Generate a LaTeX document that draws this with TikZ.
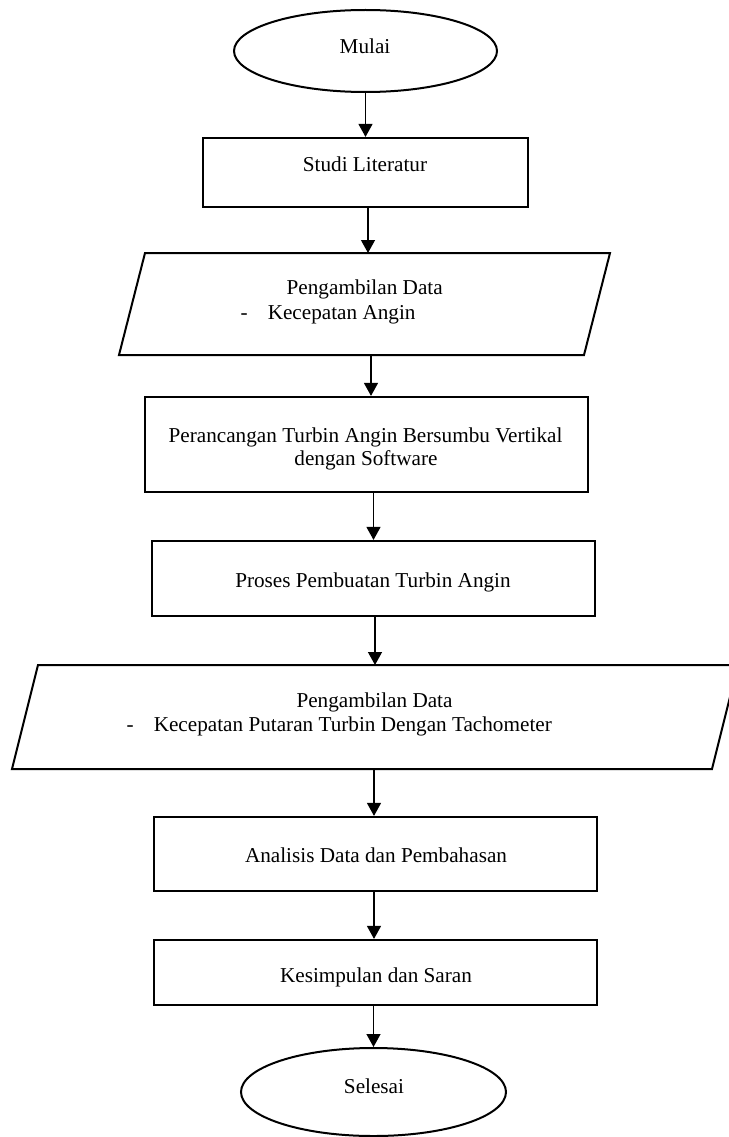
\documentclass[tikz,border=0pt]{standalone}
\usepackage{fontspec}
\setmainfont{Liberation Serif}
\usetikzlibrary{shapes.geometric,arrows.meta,calc}
\begin{document}
\begin{tikzpicture}[x=1pt,y=-1pt,
  box/.style={draw, line width=2.2pt, rectangle, inner sep=0pt},
  term/.style={draw, line width=2pt, ellipse, inner sep=0pt},
  para/.style={draw, line width=2pt, line join=miter},
  lbl/.style={font=\fontsize{21.2pt}{25pt}\selectfont, inner sep=0pt, anchor=base},
  lblw/.style={lbl, anchor=base west},
  arr/.style={line width=1.3pt, -{Triangle[length=13pt,width=14pt]}}]
\useasboundingbox (0,0) rectangle (728,1137);

% shapes
\node[term, minimum width=263pt, minimum height=82pt] (mulai) at (365.5,51) {};
\node[box, minimum width=325pt, minimum height=69pt] (studi) at (365.5,172.5) {};
\coordinate (p1tl) at (145,253);
\coordinate (p1tr) at (610,253);
\coordinate (p1br) at (584,355);
\coordinate (p1bl) at (119,355);
\draw[para] (p1tl) -- (p1tr) -- (p1br) -- (p1bl) -- cycle;
\coordinate (p1n) at (368,253);
\coordinate (p1s) at (371,355);
\node[box, minimum width=443pt, minimum height=95pt] (r2) at (366.5,444.5) {};
\node[box, minimum width=443pt, minimum height=75pt] (r3) at (373.5,578.5) {};
\coordinate (p2tl) at (38,665);
\coordinate (p2tr) at (738,665);
\coordinate (p2br) at (712,769);
\coordinate (p2bl) at (12,769);
\draw[para] (p2tl) -- (p2tr) -- (p2br) -- (p2bl) -- cycle;
\coordinate (p2n) at (375,665);
\coordinate (p2s) at (374,769);
\node[box, minimum width=443pt, minimum height=74pt] (r4) at (375.5,854) {};
\node[box, minimum width=443pt, minimum height=65pt] (r5) at (375.5,972.5) {};
\node[term, minimum width=265pt, minimum height=88pt] (selesai) at (373.5,1092) {};

% texts
\node[lbl] (tmulai) at (365,54) {Mulai};
\node[lbl] (tstudi) at (365,171) {Studi Literatur};
\node[lbl] (tp1a) at (364.7,294) {Pengambilan Data};
\node[lblw] (tp1b) at (240.5,319) {-\hspace{20pt}Kecepatan Angin};
\node[lbl] (tr2a) at (365.5,442) {Perancangan Turbin Angin Bersumbu Vertikal};
\node[lbl] (tr2b) at (366,465) {dengan Software};
\node[lbl] (tr3) at (373,587) {Proses Pembuatan Turbin Angin};
\node[lbl] (tp2a) at (374.5,707) {Pengambilan Data};
\node[lblw] (tp2b) at (126.5,731) {-\hspace{20pt}Kecepatan Putaran Turbin Dengan Tachometer};
\node[lbl] (tr4) at (376,862) {Analisis Data dan Pembahasan};
\node[lbl] (tr5) at (376,982) {Kesimpulan dan Saran};
\node[lbl] (tselesai) at (374,1093) {Selesai};

% connectors
\draw[arr] (mulai.south) -- (studi.north);
\draw[arr] (studi.south -| p1n) -- (p1n);
\draw[arr] (p1s) -- (p1s |- r2.north);
\draw[arr] (r2.south -| r3.north) -- (r3.north);
\draw[arr] (r3.south -| p2n) -- (p2n);
\draw[arr] (p2s) -- (p2s |- r4.north);
\draw[arr] (r4.south -| p2s) -- (p2s |- r5.north);
\draw[arr] (r5.south -| selesai.north) -- (selesai.north);
\end{tikzpicture}
\end{document}
